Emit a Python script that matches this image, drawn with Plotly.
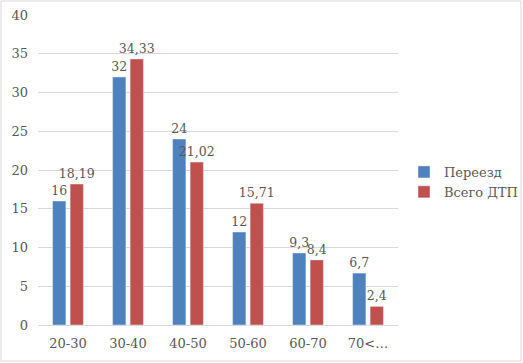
import plotly.graph_objects as go

categories = ["20-30", "30-40", "40-50", "50-60", "60-70", "70<…"]
pereezd = [16, 32, 24, 12, 9.3, 6.7]
vsego_dtp = [18.19, 34.33, 21.02, 15.71, 8.4, 2.4]
pereezd_labels = ["16", "32", "24", "12", "9,3", "6,7"]
vsego_labels = ["18,19", "34,33", "21,02", "15,71", "8,4", "2,4"]

FONT = "DejaVu Serif"
FS = 13
TXT = "#595959"

fig = go.Figure()
fig.add_trace(go.Bar(x=categories, y=pereezd, name="Переезд", marker_color="#4F81BD",
                     text=pereezd_labels, textposition="outside", constraintext="none",
                     cliponaxis=False, textfont=dict(family=FONT, size=12.5, color=TXT)))
fig.add_trace(go.Bar(x=categories, y=vsego_dtp, name="Всего ДТП", marker_color="#C0504D",
                     text=vsego_labels, textposition="outside", constraintext="none",
                     cliponaxis=False, textfont=dict(family=FONT, size=12.5, color=TXT)))

L, R, T, B = 38, 125, 15, 38
W, H = 523, 363
pw, ph = W - L - R, H - T - B

fig.update_layout(
    width=W, height=H,
    margin=dict(l=L, r=R, t=T, b=B, pad=0, autoexpand=False),
    paper_bgcolor="white", plot_bgcolor="white",
    barmode="group", bargap=0.417, bargroupgap=0.24,
    font=dict(family=FONT, size=FS, color=TXT),
    showlegend=True,
    legend=dict(x=(404 - L) / pw, y=(H - B - 182) / ph, xanchor="left", yanchor="middle",
                font=dict(family=FONT, size=FS, color=TXT), tracegroupgap=0,
                itemwidth=30, bgcolor="rgba(0,0,0,0)"),
    xaxis=dict(showgrid=False, showline=True, linecolor="#d9d9d9", linewidth=1,
               ticks="", automargin=False, ticklabelstandoff=6,
               tickfont=dict(family=FONT, size=FS, color=TXT)),
    yaxis=dict(range=[0, 40], dtick=5, showgrid=True, gridcolor="#d9d9d9", gridwidth=1,
               zeroline=False, showline=False, ticks="", automargin=False,
               ticklabelstandoff=9,
               tickfont=dict(family=FONT, size=FS, color=TXT)),
    shapes=[dict(type="rect", xref="paper", yref="paper",
                 x0=(1 - L) / pw, x1=(521 - L) / pw,
                 y0=(H - B - 361) / ph, y1=(H - B - 1) / ph,
                 line=dict(color="#d9d9d9", width=1), fillcolor="rgba(0,0,0,0)", layer="below")],
)

fig.write_html("out.html", config={"displayModeBar": False},
               post_script="document.body.style.margin='0';")
